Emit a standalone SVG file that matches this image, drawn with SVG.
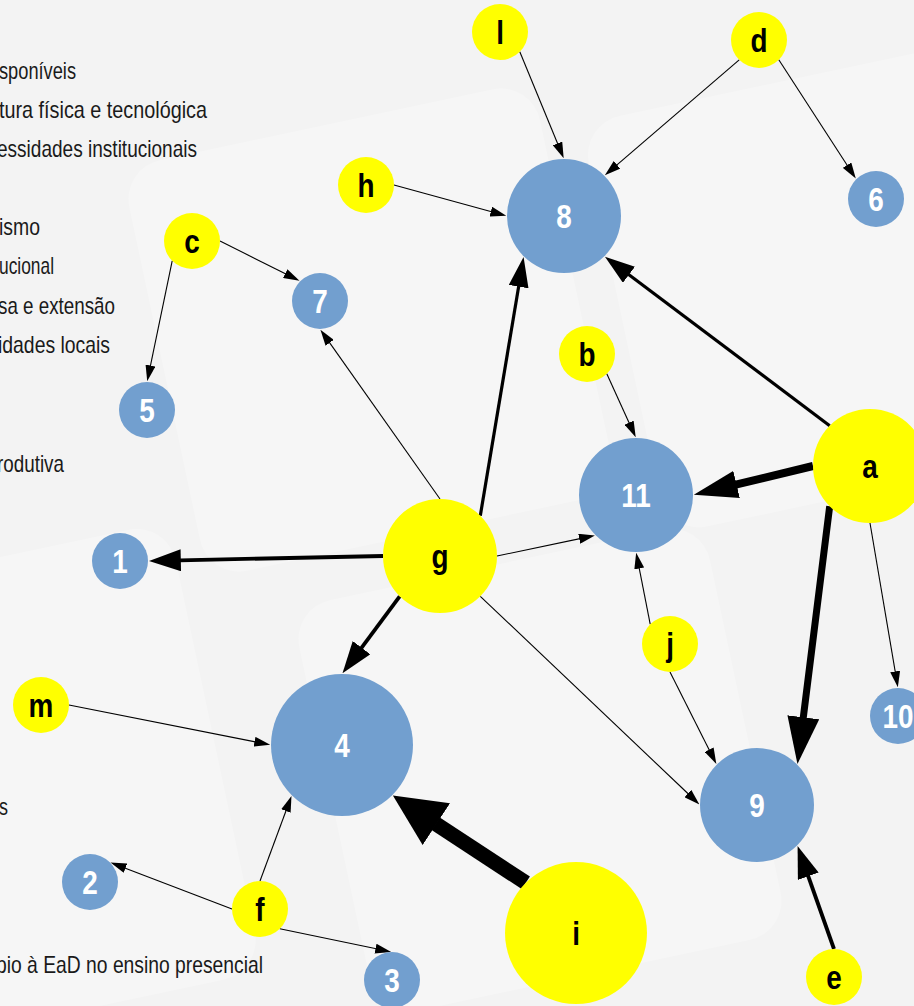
<svg xmlns="http://www.w3.org/2000/svg" width="914" height="1006" viewBox="0 0 914 1006">
  <style>
    .bg { fill: #f3f3f3; }
    .tile { fill: #ffffff; opacity: 0.25; }
    .legend { font-family: "Liberation Sans Narrow", "Liberation Sans", sans-serif; font-size: 24px; fill: #1a1a1a; }
    .n-blue { fill: #729fcf; }
    .n-yel { fill: #ffff00; }
    .lbl { font-family: "Liberation Sans Narrow", "Liberation Sans", sans-serif; font-weight: bold; font-size: 34px; text-anchor: middle; }
    .lbl-w { fill: #ffffff; }
    .lbl-k { fill: #000000; }
    .e { stroke: #000000; fill: none; }
    .w1 { stroke-width: 1.1; marker-end: url(#ah-thin); }
    .w3 { stroke-width: 3.2; marker-end: url(#ah-m1); }
    .w4 { stroke-width: 3.8; marker-end: url(#ah-m2); }
    .w8 { stroke-width: 8; marker-end: url(#ah-h1); }
    .w7 { stroke-width: 7; marker-end: url(#ah-h2); }
    .w15 { stroke-width: 15; marker-end: url(#ah-h3); }
  </style>
  <defs>
    <marker id="ah-thin" markerUnits="userSpaceOnUse" orient="auto" viewBox="0 0 16 10" refX="0.8" refY="5" markerWidth="16" markerHeight="10"><path d="M0,0 L16,5 L0,10 Z" fill="#000"/></marker>
    <marker id="ah-m1" markerUnits="userSpaceOnUse" orient="auto" viewBox="0 0 30 20" refX="0.8" refY="10" markerWidth="30" markerHeight="20"><path d="M0,0 L30,10 L0,20 Z" fill="#000"/></marker>
    <marker id="ah-m2" markerUnits="userSpaceOnUse" orient="auto" viewBox="0 0 32 22" refX="0.8" refY="11" markerWidth="32" markerHeight="22"><path d="M0,0 L32,11 L0,22 Z" fill="#000"/></marker>
    <marker id="ah-h1" markerUnits="userSpaceOnUse" orient="auto" viewBox="0 0 44 28" refX="0.8" refY="14" markerWidth="44" markerHeight="28"><path d="M0,0 L44,14 L0,28 Z" fill="#000"/></marker>
    <marker id="ah-h2" markerUnits="userSpaceOnUse" orient="auto" viewBox="0 0 47 32" refX="0.8" refY="16" markerWidth="47" markerHeight="32"><path d="M0,0 L47,16 L0,32 Z" fill="#000"/></marker>
    <marker id="ah-h3" markerUnits="userSpaceOnUse" orient="auto" viewBox="0 0 52 50" refX="0.8" refY="25" markerWidth="52" markerHeight="50"><path d="M0,0 L52,25 L0,50 Z" fill="#000"/></marker>
  </defs>

  <!-- slide background with faint tiles -->
  <rect class="bg" x="0" y="0" width="914" height="1006"/>
  <g id="background-tiles">
    <rect class="tile" x="160" y="120" width="420" height="420" rx="40" transform="rotate(-12 370 330)"/>
    <rect class="tile" x="330" y="560" width="420" height="420" rx="40" transform="rotate(-12 540 770)"/>
    <rect class="tile" x="-200" y="560" width="420" height="460" rx="40" transform="rotate(-12 10 790)"/>
    <rect class="tile" x="620" y="80" width="380" height="420" rx="40" transform="rotate(-12 810 290)"/>
  </g>

  <!-- legend text running off the left edge -->
  <g id="legend">
    <text class="legend" x="-1" y="79" textLength="77" lengthAdjust="spacingAndGlyphs">sponíveis</text>
    <text class="legend" x="-1" y="118" textLength="208" lengthAdjust="spacingAndGlyphs">tura física e tecnológica</text>
    <text class="legend" x="-3" y="157" textLength="200" lengthAdjust="spacingAndGlyphs">essidades institucionais</text>
    <text class="legend" x="-1" y="235" textLength="41" lengthAdjust="spacingAndGlyphs">ismo</text>
    <text class="legend" x="-1" y="274" textLength="55" lengthAdjust="spacingAndGlyphs">ucional</text>
    <text class="legend" x="-2" y="314" textLength="117" lengthAdjust="spacingAndGlyphs">sa e extensão</text>
    <text class="legend" x="-2" y="353" textLength="112" lengthAdjust="spacingAndGlyphs">idades locais</text>
    <text class="legend" x="-3" y="472" textLength="67" lengthAdjust="spacingAndGlyphs">rodutiva</text>
    <text class="legend" x="-1" y="815" textLength="9" lengthAdjust="spacingAndGlyphs">s</text>
    <text class="legend" x="-4" y="973" textLength="267" lengthAdjust="spacingAndGlyphs">pio à EaD no ensino presencial</text>
  </g>

  <!-- connectors -->
  <g id="connectors">
    <line class="e w1" x1="519.8" y1="51.8" x2="557.9" y2="144.2"/>
    <line class="e w1" x1="739.2" y1="59.8" x2="616.4" y2="165.3"/>
    <line class="e w1" x1="778.8" y1="59.8" x2="847.5" y2="165.8"/>
    <line class="e w1" x1="394" y1="185" x2="491.6" y2="211.8"/>
    <line class="e w3" x1="829.7" y1="425.7" x2="628.3" y2="274.3"/>
    <line class="e w3" x1="480.3" y1="515.7" x2="518.75" y2="285.9"/>
    <line class="e w1" x1="220" y1="241" x2="285.9" y2="274.0"/>
    <line class="e w1" x1="172.2" y1="260.8" x2="150.3" y2="366.3"/>
    <line class="e w1" x1="440" y1="499" x2="329.2" y2="342.1"/>
    <line class="e w1" x1="606.8" y1="373.8" x2="629.4" y2="423.4"/>
    <line class="e w8" x1="813" y1="466" x2="735.8" y2="484.7"/>
    <line class="e w1" x1="497" y1="556" x2="580.0" y2="538.6"/>
    <line class="e w7" x1="829.7" y1="506.3" x2="803.2" y2="718.1"/>
    <line class="e w1" x1="870" y1="523" x2="895.3" y2="672.2"/>
    <line class="e w1" x1="650.2" y1="624.2" x2="639.1" y2="567.7"/>
    <line class="e w1" x1="670" y1="672" x2="709.5" y2="750.4"/>
    <line class="e w1" x1="480.3" y1="596.3" x2="688.4" y2="794.0"/>
    <line class="e w4" x1="834" y1="949" x2="808.0" y2="875.5"/>
    <line class="e w15" x1="525.8" y1="882.8" x2="435.7" y2="823.7"/>
    <line class="e w4" x1="383" y1="556" x2="180" y2="560.3"/>
    <line class="e w4" x1="399.7" y1="596.3" x2="361.1" y2="648.3"/>
    <line class="e w1" x1="69" y1="705" x2="255.3" y2="741.9"/>
    <line class="e w1" x1="260" y1="881" x2="286.2" y2="810.2"/>
    <line class="e w1" x1="232" y1="909" x2="124.7" y2="867.9"/>
    <line class="e w1" x1="279.8" y1="928.8" x2="376.3" y2="948.8"/>
  </g>

  <!-- nodes -->
  <g id="node-l"><circle class="n-yel" cx="500" cy="32" r="28"/><text class="lbl lbl-k" transform="translate(500 44) scale(0.82 1)">l</text></g>
  <g id="node-d"><circle class="n-yel" cx="759" cy="40" r="28"/><text class="lbl lbl-k" transform="translate(759 52) scale(0.82 1)">d</text></g>
  <g id="node-h"><circle class="n-yel" cx="366" cy="185" r="28"/><text class="lbl lbl-k" transform="translate(366 197) scale(0.82 1)">h</text></g>
  <g id="node-8"><circle class="n-blue" cx="564" cy="216" r="57"/><text class="lbl lbl-w" transform="translate(564 228) scale(0.82 1)">8</text></g>
  <g id="node-6"><circle class="n-blue" cx="876" cy="199" r="28"/><text class="lbl lbl-w" transform="translate(876 211) scale(0.82 1)">6</text></g>
  <g id="node-c"><circle class="n-yel" cx="192" cy="241" r="28"/><text class="lbl lbl-k" transform="translate(192 253) scale(0.82 1)">c</text></g>
  <g id="node-7"><circle class="n-blue" cx="320" cy="301" r="28"/><text class="lbl lbl-w" transform="translate(320 313) scale(0.82 1)">7</text></g>
  <g id="node-5"><circle class="n-blue" cx="147" cy="410" r="28"/><text class="lbl lbl-w" transform="translate(147 422) scale(0.82 1)">5</text></g>
  <g id="node-b"><circle class="n-yel" cx="587" cy="354" r="28"/><text class="lbl lbl-k" transform="translate(587 366) scale(0.82 1)">b</text></g>
  <g id="node-11"><circle class="n-blue" cx="636" cy="495" r="57"/><text class="lbl lbl-w" transform="translate(636 507) scale(0.82 1)">11</text></g>
  <g id="node-a"><circle class="n-yel" cx="870" cy="466" r="57"/><text class="lbl lbl-k" transform="translate(870 478) scale(0.82 1)">a</text></g>
  <g id="node-g"><circle class="n-yel" cx="440" cy="556" r="57"/><text class="lbl lbl-k" transform="translate(440 568) scale(0.82 1)">g</text></g>
  <g id="node-1"><circle class="n-blue" cx="120" cy="561" r="28"/><text class="lbl lbl-w" transform="translate(120 573) scale(0.82 1)">1</text></g>
  <g id="node-j"><circle class="n-yel" cx="670" cy="644" r="28"/><text class="lbl lbl-k" transform="translate(670 656) scale(0.82 1)">j</text></g>
  <g id="node-10"><circle class="n-blue" cx="898" cy="716" r="28"/><text class="lbl lbl-w" transform="translate(898 728) scale(0.82 1)">10</text></g>
  <g id="node-m"><circle class="n-yel" cx="41" cy="705" r="28"/><text class="lbl lbl-k" transform="translate(41 717) scale(0.82 1)">m</text></g>
  <g id="node-4"><circle class="n-blue" cx="342" cy="745" r="71"/><text class="lbl lbl-w" transform="translate(342 757) scale(0.82 1)">4</text></g>
  <g id="node-9"><circle class="n-blue" cx="757" cy="805" r="57"/><text class="lbl lbl-w" transform="translate(757 817) scale(0.82 1)">9</text></g>
  <g id="node-2"><circle class="n-blue" cx="90" cy="882" r="28"/><text class="lbl lbl-w" transform="translate(90 894) scale(0.82 1)">2</text></g>
  <g id="node-f"><circle class="n-yel" cx="260" cy="909" r="28"/><text class="lbl lbl-k" transform="translate(260 921) scale(0.82 1)">f</text></g>
  <g id="node-i"><circle class="n-yel" cx="576" cy="933" r="71"/><text class="lbl lbl-k" transform="translate(576 945) scale(0.82 1)">i</text></g>
  <g id="node-3"><circle class="n-blue" cx="392" cy="980" r="28"/><text class="lbl lbl-w" transform="translate(392 992) scale(0.82 1)">3</text></g>
  <g id="node-e"><circle class="n-yel" cx="834" cy="977" r="28"/><text class="lbl lbl-k" transform="translate(834 989) scale(0.82 1)">e</text></g>
</svg>
